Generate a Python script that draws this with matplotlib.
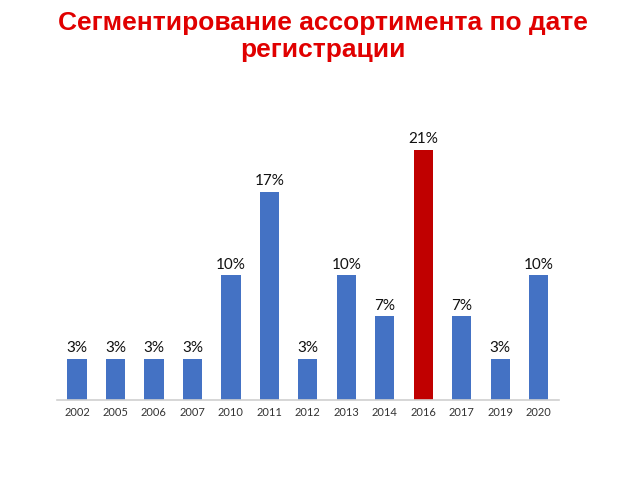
import matplotlib.pyplot as plt

# Data
years = ['2002', '2005', '2006', '2007', '2010', '2011', '2012',
         '2013', '2014', '2016', '2017', '2019', '2020']
shares = [3.4, 3.4, 3.4, 3.4, 10.3, 17.2, 3.4, 10.3, 6.9, 20.7, 6.9, 3.4, 10.3]
highlight = '2016'

blue = '#4472C4'
red = '#C00000'
colors = [red if y == highlight else blue for y in years]

fig = plt.figure(figsize=(6.4, 4.8), dpi=100)
ax = fig.add_axes([0.089, 0.167, 0.784, 0.604])

x = range(len(years))
bars = ax.bar(x, shares, width=0.5, color=colors)

for b, v in zip(bars, shares):
    ax.text(b.get_x() + b.get_width() / 2, v + 0.3, f'{v:.0f}%',
            ha='center', va='bottom', fontsize=11, family='Lato',
            color='#111111')

ax.set_xlim(-0.52, len(years) - 0.48)
ax.set_ylim(0, 24)
ax.set_xticks(list(x))
ax.set_xticklabels(years, fontsize=8, family='Lato', color='#333333')
ax.tick_params(axis='x', length=0, pad=5)
ax.set_yticks([])
for side in ['left', 'right', 'top']:
    ax.spines[side].set_visible(False)
ax.spines['bottom'].set_color('#d0d0d0')
ax.spines['bottom'].set_linewidth(1.2)

fig.text(0.505, 0.978, 'Сегментирование ассортимента по дате\nрегистрации',
         ha='center', va='top', fontsize=19, fontweight='bold',
         family='Liberation Sans', color='#E00000', linespacing=1.19)

fig.savefig('out.png', dpi=100)
